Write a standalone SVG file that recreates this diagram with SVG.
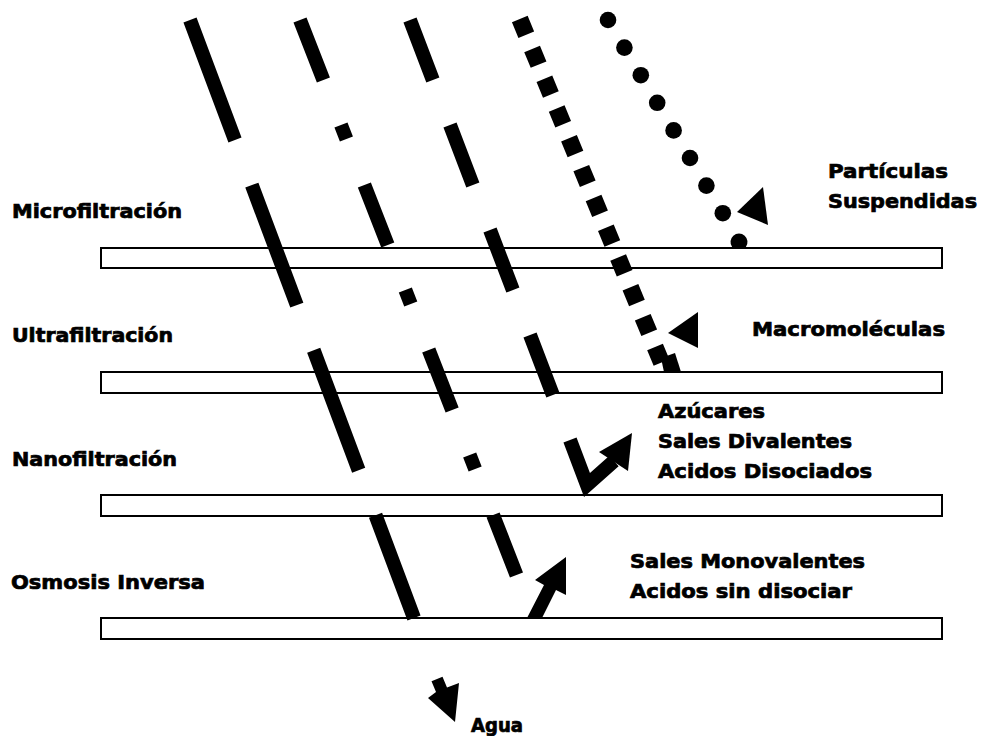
<svg xmlns="http://www.w3.org/2000/svg" width="982" height="736" viewBox="0 0 982 736">
  <style>
    .lbl { font-family: "DejaVu Sans", "Liberation Sans", Arial, sans-serif; font-weight: bold; font-size: 19px; fill: #000; stroke: #000; stroke-width: 0.7; }
    .membrane { fill: #fff; stroke: #000; stroke-width: 2; }
    .flow { fill: none; stroke: #000; stroke-linecap: butt; }
    .ink { fill: #000; stroke: none; }
  </style>
  <rect width="982" height="736" fill="#fff"/>

  <!-- membrane stages: label + membrane bar -->
  <g id="microfiltracion">
    <text class="lbl" x="12" y="218" textLength="170" lengthAdjust="spacingAndGlyphs">Microfiltración</text>
    <rect class="membrane" x="101" y="248" width="841" height="20"/>
  </g>
  <g id="ultrafiltracion">
    <text class="lbl" x="12" y="342" textLength="161" lengthAdjust="spacingAndGlyphs">Ultrafiltración</text>
    <rect class="membrane" x="101" y="372" width="841" height="21"/>
  </g>
  <g id="nanofiltracion">
    <text class="lbl" x="12" y="466" textLength="165" lengthAdjust="spacingAndGlyphs">Nanofiltración</text>
    <rect class="membrane" x="101" y="495" width="841" height="21"/>
  </g>
  <g id="osmosis-inversa">
    <text class="lbl" x="11" y="589" textLength="194" lengthAdjust="spacingAndGlyphs">Osmosis Inversa</text>
    <rect class="membrane" x="101" y="618" width="841" height="21"/>
  </g>

  <!-- retained species labels -->
  <g id="particulas">
    <text class="lbl" x="828" y="178" textLength="120" lengthAdjust="spacingAndGlyphs">Partículas</text>
    <text class="lbl" x="828" y="208" textLength="149" lengthAdjust="spacingAndGlyphs">Suspendidas</text>
  </g>
  <g id="macromoleculas">
    <text class="lbl" x="752" y="336" textLength="193" lengthAdjust="spacingAndGlyphs">Macromoléculas</text>
  </g>
  <g id="azucares">
    <text class="lbl" x="658" y="418" textLength="107" lengthAdjust="spacingAndGlyphs">Azúcares</text>
    <text class="lbl" x="658" y="448" textLength="194" lengthAdjust="spacingAndGlyphs">Sales Divalentes</text>
    <text class="lbl" x="658" y="478" textLength="214" lengthAdjust="spacingAndGlyphs">Acidos Disociados</text>
  </g>
  <g id="sales-monovalentes">
    <text class="lbl" x="630" y="568" textLength="235" lengthAdjust="spacingAndGlyphs">Sales Monovalentes</text>
    <text class="lbl" x="630" y="598" textLength="222" lengthAdjust="spacingAndGlyphs">Acidos sin disociar</text>
  </g>
  <g id="agua">
    <text class="lbl" x="471" y="732" textLength="52" lengthAdjust="spacingAndGlyphs">Agua</text>
  </g>

  <!-- species paths through the membranes -->
  <g id="connectors">
    <!-- water: long dashes through every stage -->
    <path class="flow" d="M190,20 L414,618" stroke-width="14" stroke-dasharray="128.2 48.1"/>
    <polygon class="ink" points="431.5,681.3 442.5,676.7 447,687.5 459,683 455,722 428,698 436,692"/>

    <!-- monovalent salts: dash-dot, rejected by reverse osmosis -->
    <path class="flow" d="M300,20 L516.5,575" stroke-width="14" stroke-dasharray="64.4 48.3 15 49.4"/>
    <polygon class="ink" points="527,618 544,585 535,580 566,557 566,595 556,590 542,618"/>

    <!-- sugars / divalent salts: medium dashes, rejected by nanofiltration -->
    <path class="flow" d="M410,20 L553.6,397" stroke-width="14" stroke-dasharray="64.2 48.2"/>
    <polyline class="flow" points="570,440 587,485 614,461" stroke-width="14" stroke-linejoin="miter" stroke-miterlimit="4"/>
    <polygon class="ink" points="599,452 632,433 628,471"/>

    <!-- macromolecules: squares, rejected by ultrafiltration -->
    <path class="flow" d="M519.8,19.1 L661.5,362.6" stroke-width="17" stroke-dasharray="17 15.24"/>
    <polygon class="ink" points="661,358 675,353 681,372 664,372"/>
    <polygon class="ink" points="668,333 698,312 698,348"/>

    <!-- suspended particles: dots, rejected by microfiltration -->
    <g class="ink">
      <circle cx="608" cy="20" r="8.3"/>
      <circle cx="624.4" cy="47.6" r="8.3"/>
      <circle cx="640.8" cy="75.2" r="8.3"/>
      <circle cx="657.2" cy="102.8" r="8.3"/>
      <circle cx="673.6" cy="130.4" r="8.3"/>
      <circle cx="690" cy="158" r="8.3"/>
      <circle cx="706.4" cy="185.6" r="8.3"/>
      <circle cx="722.8" cy="213.2" r="8.3"/>
      <path d="M732.1,247 A8.5,8.5 0 1 1 745.9,247 Z"/>
    </g>
    <polygon class="ink" points="737,212 763,187 768,225"/>
  </g>
</svg>
